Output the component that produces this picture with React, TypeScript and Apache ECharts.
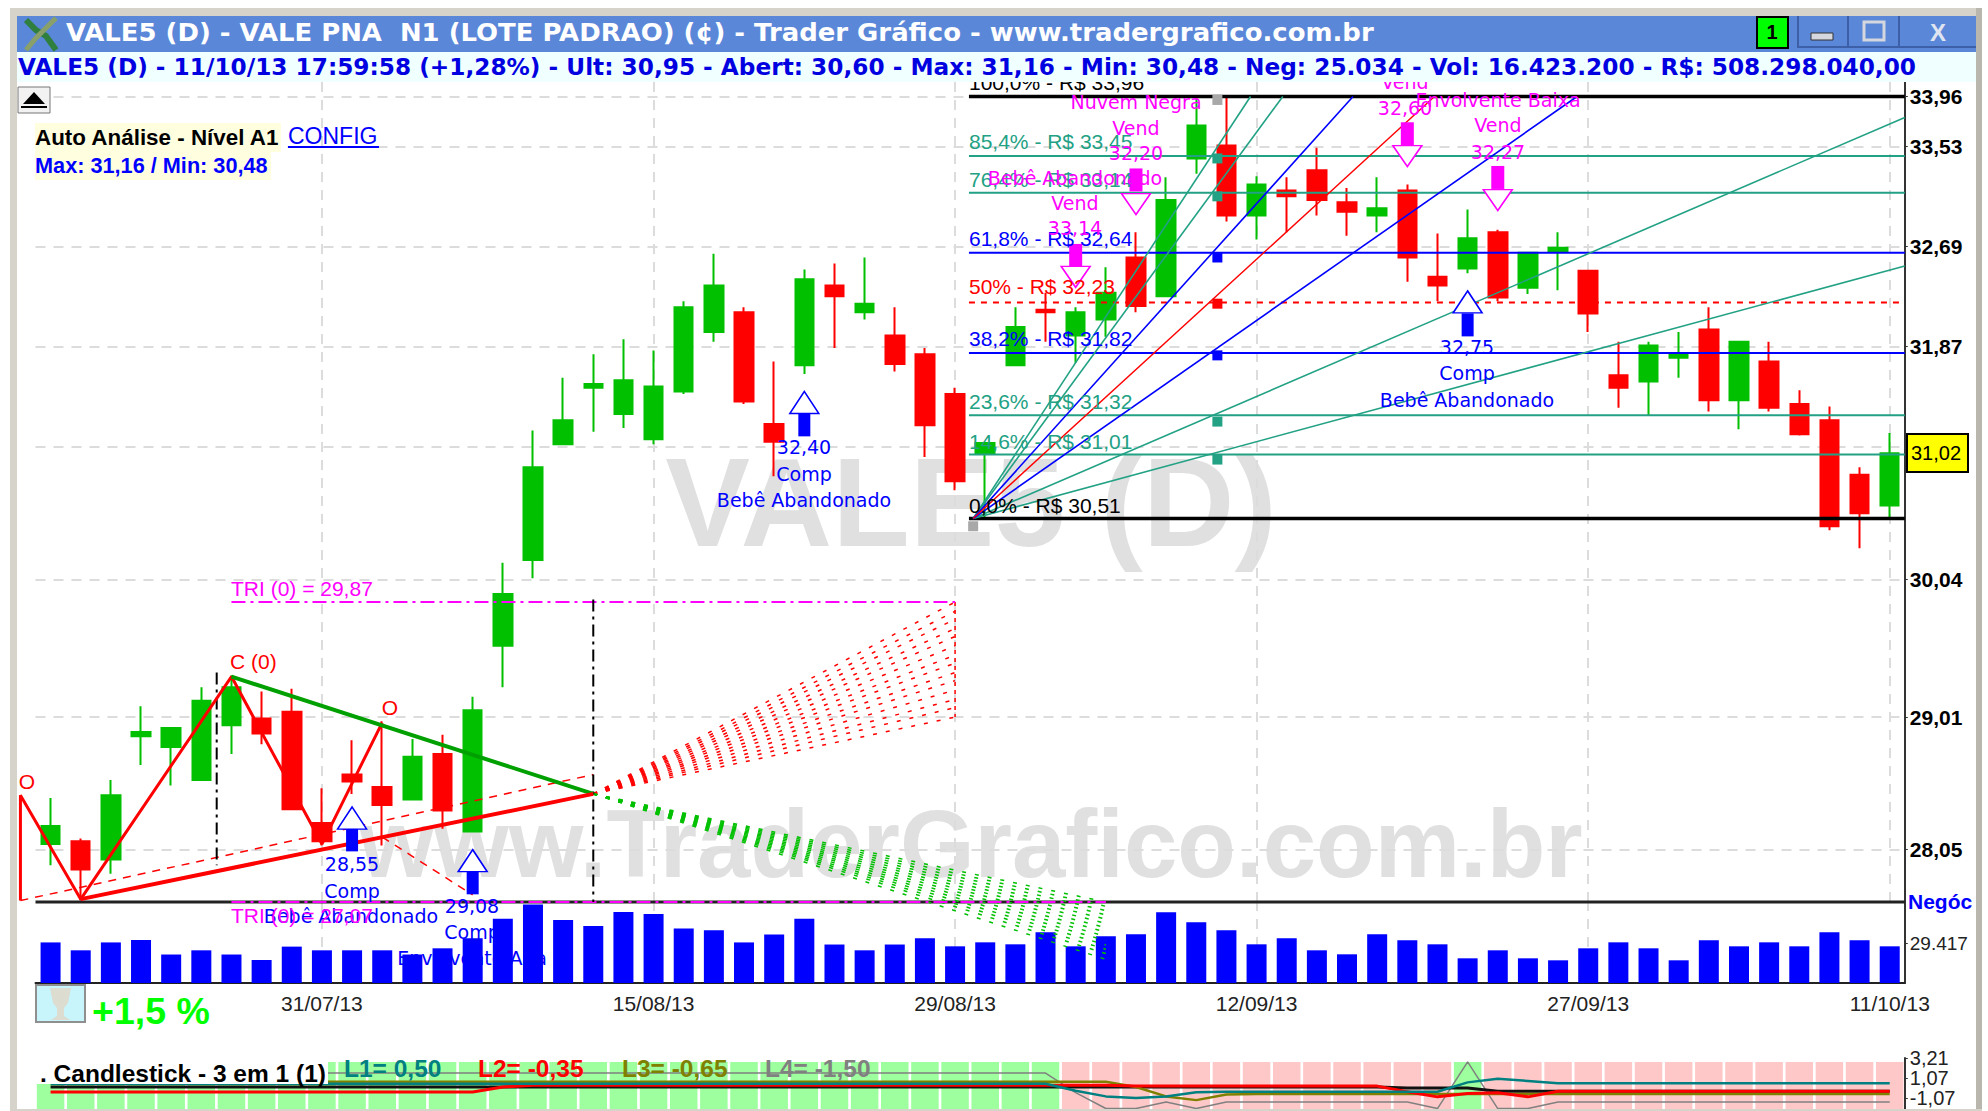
import React, { useEffect, useRef } from "react";
import * as echarts from "echarts";

const dates = [
  "18/07/13","19/07/13","22/07/13","23/07/13","24/07/13","25/07/13","26/07/13","29/07/13","30/07/13","31/07/13",
  "01/08/13","02/08/13","05/08/13","06/08/13","07/08/13","08/08/13","09/08/13","12/08/13","13/08/13","14/08/13",
  "15/08/13","16/08/13","19/08/13","20/08/13","21/08/13","22/08/13","23/08/13","26/08/13","27/08/13","28/08/13",
  "29/08/13","30/08/13","02/09/13","03/09/13","04/09/13","05/09/13","06/09/13","09/09/13","10/09/13","11/09/13",
  "12/09/13","13/09/13","16/09/13","17/09/13","18/09/13","19/09/13","20/09/13","23/09/13","24/09/13","25/09/13",
  "26/09/13","27/09/13","30/09/13","01/10/13","02/10/13","03/10/13","04/10/13","07/10/13","08/10/13","09/10/13",
  "10/10/13","11/10/13",
];
const dateTickIdx = [9, 20, 30, 40, 51, 61];

// open, close, low, high
const candles = [
  [28.09,28.22,27.94,28.42],[28.11,27.91,27.69,28.13],[27.98,28.44,27.88,28.55],[28.87,28.90,28.66,29.09],[28.79,28.93,28.51,28.93],
  [28.55,29.13,28.55,29.23],[28.95,29.23,28.74,29.32],[29.00,28.89,28.81,29.20],[29.05,28.34,28.34,29.22],[28.24,28.11,28.08,28.49],
  [28.59,28.54,28.45,28.84],[28.50,28.37,28.08,28.98],[28.41,28.72,28.41,28.85],[28.74,28.33,28.20,28.88],[28.18,29.06,28.18,29.16],
  [29.54,29.93,29.23,30.17],[30.19,30.91,30.05,31.20],[31.09,31.28,31.09,31.62],[31.54,31.57,31.19,31.81],[31.33,31.60,31.22,31.93],
  [31.13,31.55,31.09,31.84],[31.51,32.19,31.49,32.24],[31.99,32.37,31.91,32.63],[32.15,31.43,31.41,32.19],[31.25,31.11,30.84,31.75],
  [31.72,32.42,31.65,32.50],[32.37,32.28,31.86,32.55],[32.15,32.22,32.09,32.60],[31.96,31.73,31.67,32.19],[31.81,31.24,30.99,31.86],
  [31.49,30.80,30.73,31.54],[31.02,31.10,30.52,31.10],[31.72,32.03,31.72,32.19],[32.17,32.15,31.91,32.31],[31.96,32.15,31.74,32.19],
  [32.09,32.31,31.95,32.52],[32.60,32.20,32.15,32.81],[32.28,33.08,32.28,33.27],[33.43,33.71,33.30,33.96],[33.54,32.95,32.90,33.96],
  [32.95,33.21,32.75,33.28],[33.16,33.11,32.81,33.27],[33.33,33.08,32.95,33.52],[33.06,32.98,32.78,33.18],[32.95,33.01,32.81,33.27],
  [33.16,32.60,32.40,33.21],[32.44,32.37,32.24,32.80],[32.51,32.76,32.47,33.00],[32.81,32.27,32.24,32.83],[32.35,32.64,32.30,32.64],
  [32.65,32.68,32.33,32.81],[32.49,32.14,31.99,32.49],[31.64,31.54,31.38,31.91],[31.59,31.88,31.32,31.91],[31.78,31.81,31.62,31.99],
  [32.01,31.44,31.35,32.19],[31.44,31.91,31.21,31.91],[31.75,31.38,31.35,31.91],[31.41,31.17,31.16,31.52],[31.28,30.45,30.42,31.39],
  [30.85,30.55,30.28,30.91],[30.61,31.02,30.50,31.18],
];

const volumes = [
  29860,24050,29860,31620,20960,24050,20960,16910,26770,24050,
  24050,24050,20960,25520,32870,47360,57730,46330,41920,52210,
  50740,40010,38760,29860,35670,47360,28310,24050,28310,32870,
  26990,29930,28460,37290,26990,34340,35810,51990,44640,38760,
  28460,32870,24050,21110,35810,31400,28460,18160,24050,18160,
  16690,25520,29930,25520,16690,31400,26990,29930,26990,37290,
  31400,26990,
];

const priceTicks = [33.96, 33.53, 32.69, 31.87, 30.04, 29.01, 28.05];
const gridPrices = [33.53, 32.69, 31.87, 31.07, 30.04, 29.01, 28.05];

const fibTeal = [33.45, 33.14, 31.32, 31.01];
const fibBlue = [32.64, 31.82];
const fibRed = 32.23;
const fibBlack = [33.96, 30.51];

const fanOrigin = [30.6, 30.51];
const fanTeal = [[61.5, 32.53], [61.5, 33.78], [39.8, 33.96], [40.87, 33.96]];
const fanBlue = [[50.63, 33.96], [43.2, 33.96]];
const fanRed = [45.9, 33.96];

const zigzag = [[-1, 27.69], [-1, 28.44], [1, 27.70], [6, 29.31], [9, 28.09], [11, 28.97]];
const apex = [18, 28.45];
const triHigh = [6, 29.31];
const triLow = [1, 27.70];
const redFanEnds = [29.87, 29.80, 29.74, 29.67, 29.61, 29.54, 29.47, 29.41, 29.34, 29.28, 29.21, 29.14, 29.08, 29.01];
const greenFanEnds = [27.68, 27.65, 27.62, 27.59, 27.56, 27.53, 27.50, 27.47, 27.44, 27.41, 27.38, 27.35, 27.32, 27.28];

const buyStems = [[10, 28.12], [14, 27.815], [25, 31.244], [47, 32.047]];
const buyHeads = [[10, 28.276], [14, 27.972], [25, 31.422], [47, 32.235]];
const sellStems = [[34, 32.617], [36, 33.248], [45, 33.64], [48, 33.269]];
const sellHeads = [[34, 32.44], [36, 33.045], [45, 33.45], [48, 33.079]];

const squaresTeal = [[38.7, 33.43], [38.7, 33.11], [38.7, 31.27], [38.7, 30.97]];
const squaresBlue = [[38.7, 32.60], [38.7, 31.80]];
const squaresRed = [[38.7, 32.22]];
const squaresGray = [[38.7, 33.93], [30.6, 30.45]];

const signalBands = [
  1,1,1,1,1,1,1,1,1,1,1,1,1,1,1,1,1,1,1,1,1,1,1,1,1,1,1,1,1,1,1,1,1,1,
  0,0,0,0,0,0,0,0,0,0,0,0,0,
  1,
  0,0,0,0,0,0,0,0,0,0,0,0,0,0,
];
const L0 = [
  .1,.1,.1,.1,.1,.1,.1,.1,.1,.1,.1,.1,.1,.1,.1,.1,.1,.1,.1,.1,.1,.1,.1,.1,.1,.1,.1,.1,.1,.1,
  .1,.1,.1,.1,.1,.1,.1,.1,.1,.1,.1,.1,.1,.1,.1,0,0,0,-.35,-.35,
  -.35,-.35,-.35,-.35,-.35,-.35,-.35,-.35,-.35,-.35,-.35,-.35,
];
const L1 = [
  .45,.45,.45,.45,.45,.45,.45,.45,.45,.45,.45,.45,.45,.45,.45,.45,.45,.45,.45,.45,
  .45,.45,.45,.45,.45,.45,.45,.45,.45,.45,.45,.45,.45,.45,-.3,-.9,-1.07,-.9,-.45,-.4,
  -.4,-.4,-.4,-.4,-.4,-.4,-.4,.6,1.0,.75,.5,.5,.5,.5,.5,.5,.5,.5,.5,.5,.5,.5,
];
const L2 = [
  -.43,-.43,-.43,-.43,-.43,-.43,-.43,-.43,-.43,-.43,-.43,-.43,-.43,-.43,-.43,.1,.3,.3,.3,.3,
  .3,.3,.3,.3,.3,.3,.3,.3,.3,.3,.3,.3,.3,.3,.3,.3,.2,.2,.2,.2,
  .2,.2,.2,.2,.2,-.4,-.95,-.6,-.5,-.95,-.35,-.35,-.35,-.35,-.35,-.35,-.35,-.35,-.35,-.35,-.35,-.35,
];
const L3 = [
  .67,.67,.67,.67,.67,.67,.67,.67,.67,.67,.67,.67,.67,.67,.67,.67,.67,.67,.67,.67,
  .67,.67,.67,.67,.67,.67,.67,.67,.67,.67,.67,.67,.67,.67,.67,.67,.1,-.9,-1.3,-.7,
  -.65,-.65,-.65,-.65,-.65,-.65,-.65,-.65,-.65,-.65,-.65,-.65,-.65,-.65,-.65,-.65,-.65,-.65,-.65,-.65,-.65,-.65,
];
const L4 = [
  1.6,1.6,1.6,1.6,1.6,1.6,1.6,1.6,1.6,1.6,1.6,1.6,1.6,1.6,1.6,1.6,1.6,1.6,1.6,1.6,
  1.6,1.6,1.6,1.6,1.6,1.6,1.6,1.6,1.6,1.6,1.6,1.6,1.6,1.6,-.5,-2.2,-2.2,-1.5,-2.2,-1.5,
  -1.5,-1.5,-1.5,-1.5,-1.5,-1.5,-2.2,2.8,-2.2,-2.2,-1.5,-1.5,-1.5,-1.5,-1.5,-1.5,-1.5,-1.5,-1.5,-1.5,-1.5,-1.5,
];

const TITLE = "VALE5 (D) - VALE PNA  N1 (LOTE PADRAO) (¢) - Trader Gráfico - www.tradergrafico.com.br";
const INFO = "VALE5 (D) - 11/10/13 17:59:58 (+1,28%) - Ult: 30,95 - Abert: 30,60 - Max: 31,16 - Min: 30,48 - Neg: 25.034 - Vol: 16.423.200 - R$: 508.298.040,00";

const TEAL = "#22a184";
const BLUE = "#0000ff";
const MAG = "#ff00ff";
const RED = "#ff0000";
const GREEN = "#00c000";
const SANS = '"Liberation Sans"';
const DJ = '"DejaVu Sans"';

const fmt = (v: number) => v.toFixed(2).replace(".", ",");

function T(text: string, x: number, y: number, fill: string, font: string, align = "left", z = 20, scaleX = 1) {
  return {
    type: "text", x, y, z, scaleX, silent: true,
    style: { text, fill, font, align, verticalAlign: "middle", textAlign: align, textVerticalAlign: "middle" },
  };
}
function R(x: number, y: number, w: number, h: number, fill: string, z = 20, stroke?: string, lw = 0) {
  return { type: "rect", z, silent: true, shape: { x, y, width: w, height: h }, style: { fill, stroke, lineWidth: lw } };
}

function ov(pts: number[][], color: string, width: number, type: any = "solid", z = 5) {
  return {
    type: "line", xAxisIndex: 1, yAxisIndex: 0, data: pts, symbol: "none", showSymbol: false, clip: false,
    lineStyle: { color, width, type }, silent: true, z, connectNulls: false,
  };
}
function marks(pts: number[][], symbol: string, size: number[], fill: string, stroke = fill, lw = 0, rotate = 0, z = 8) {
  return {
    type: "scatter", xAxisIndex: 1, yAxisIndex: 0, data: pts, symbol, symbolSize: size, symbolRotate: rotate, clip: false, silent: true, z,
    itemStyle: { color: fill, borderColor: stroke, borderWidth: lw, opacity: 1 },
  };
}

export default function App() {
  const ref = useRef<HTMLDivElement>(null);
  useEffect(() => {
    document.body.style.margin = "0";
    const chart = echarts.init(ref.current!, null, { renderer: "svg" });

    const series: any[] = [];

    // grid lines
    series.push({
      type: "line", xAxisIndex: 1, yAxisIndex: 0, data: [], symbol: "none", silent: true, z: 1,
      markLine: {
        silent: true, symbol: "none", z: 1, animation: false, label: { show: false },
        lineStyle: { color: "#dcdcdc", width: 2, type: [10, 8] },
        data: [
          ...gridPrices.map((p) => [{ coord: [-0.5, p] }, { coord: [61.5, p] }]),
          [{ coord: [-0.5, 33.96] }, { coord: [30.46, 33.96] }],
          ...dateTickIdx.map((i) => [{ coord: [i, 34.085] }, { coord: [i, 27.68] }]),
        ],
      },
    });
    series.push({
      type: "line", xAxisIndex: 2, yAxisIndex: 1, data: [], symbol: "none", silent: true, z: 1,
      markLine: {
        silent: true, symbol: "none", z: 1, animation: false, label: { show: false },
        lineStyle: { color: "#dcdcdc", width: 2, type: [10, 8] },
        data: dateTickIdx.slice(0, 5).map((i) => ({ xAxis: i })),
      },
    });

    // candles (first category is the empty slot left of the first session)
    series.push({
      type: "candlestick", xAxisIndex: 0, yAxisIndex: 0, data: [["-", "-", "-", "-"], ...candles], barWidth: 19, z: 3, silent: true,
      clip: false,
      itemStyle: { color: GREEN, color0: RED, borderColor: GREEN, borderColor0: RED, borderWidth: 2 },
    });

    // pane separator
    series.push(ov([[-0.5, 27.68], [61.5, 27.68]], "#222222", 3, "solid", 4));

    // volume
    series.push({
      type: "bar", xAxisIndex: 2, yAxisIndex: 1, data: volumes, barWidth: 20, itemStyle: { color: BLUE }, z: 3, silent: true,
    });

    // indicator bands + lines
    series.push({
      type: "bar", xAxisIndex: 3, yAxisIndex: 3, barWidth: 27.5, silent: true, z: 1,
      data: signalBands.map((s) => ({ value: 47, itemStyle: { color: s ? "#9dff9d" : "#ffc8c8" } })),
    });
    const indic = (d: number[], color: string, width: number, z: number) => ({
      type: "line", xAxisIndex: 3, yAxisIndex: 2, data: d, symbol: "none", showSymbol: false, silent: true, z,
      lineStyle: { color, width }, clip: true,
    });
    series.push(indic(L4, "#808080", 1.5, 3));
    series.push(indic(L0, "#111111", 3, 4));
    series.push(indic(L3, "#808000", 2.5, 5));
    series.push(indic(L2, "#ff0000", 3, 6));
    series.push(indic(L1, "#008080", 2.5, 7));

    // fibonacci levels
    fibTeal.forEach((p) => series.push(ov([[30.46, p], [61.5, p]], TEAL, 2)));
    fibBlue.forEach((p) => series.push(ov([[30.46, p], [61.5, p]], BLUE, 2)));
    series.push(ov([[30.46, fibRed], [61.5, fibRed]], RED, 2, [6, 6]));
    fibBlack.forEach((p) => series.push(ov([[30.46, p], [61.5, p]], "#000000", 3.5)));

    // fan
    fanTeal.forEach((e) => series.push(ov([fanOrigin, e], TEAL, 1.6)));
    fanBlue.forEach((e) => series.push(ov([fanOrigin, e], BLUE, 1.6)));
    series.push(ov([fanOrigin, fanRed], RED, 1.4));

    series.push(marks(squaresTeal, "rect", [10, 10], TEAL));
    series.push(marks(squaresBlue, "rect", [10, 10], BLUE));
    series.push(marks(squaresRed, "rect", [10, 10], RED));
    series.push(marks(squaresGray, "rect", [10, 10], "#a8a8a8"));

    // triangle analysis
    redFanEnds.forEach((p) => series.push(ov([apex, [30, p]], RED, 1.5, [4, 9])));
    series.push(ov([[30, 29.87], [30, 29.01]], RED, 1.5, [4, 4]));
    greenFanEnds.forEach((p) => series.push(ov([apex, [35, p]], "#00c000", 1.5, [4, 9])));
    series.push(ov(zigzag, RED, 3, "solid", 6));
    series.push(ov([triHigh, apex], "#00a000", 4, "solid", 6));
    series.push(ov([triLow, apex], RED, 4, "solid", 6));
    series.push(ov([[-1, 27.69], [18, 28.59]], RED, 1.5, [8, 7]));
    series.push(ov([[11, 28.14], [14, 27.73]], RED, 1.5, [8, 7]));
    series.push(ov([[6, 29.87], [30, 29.87]], MAG, 2, [14, 5, 3, 5]));
    series.push(ov([[6, 27.68], [35, 27.68]], MAG, 2, [14, 5, 3, 5], 5));
    series.push(ov([[5.51, 29.34], [5.51, 27.94]], "#000000", 2, [12, 5, 3, 5]));
    series.push(ov([[18, 29.89], [18, 27.68]], "#000000", 2, [12, 5, 3, 5]));

    // arrows
    series.push(marks(buyStems, "rect", [12, 23], BLUE));
    series.push(marks(buyHeads, "triangle", [29, 22], "#ffffff", BLUE, 1.5));
    series.push(marks(sellStems, "rect", [13, 23], MAG));
    series.push(marks(sellHeads, "triangle", [29, 21], "#ffffff", MAG, 1.5, 180));

    const f21 = `21px ${SANS}`;
    const sig = `19px ${DJ}`;
    const graphicEls: any[] = [
      // watermarks
      T("VALE5 (D)", 971, 502, "#e0e0e0", `bold 127px ${SANS}`, "center", 0),
      T("www.TraderGrafico.com.br", 971, 843, "#e0e0e0", `bold 96px ${SANS}`, "center", 0),

      // fib labels
      T("100,0% - R$ 33,96", 969, 82, "#000000", f21),
      T("85,4% - R$ 33,45", 969, 141, TEAL, f21),
      T("76,4% - R$ 33,14", 969, 179, TEAL, f21),
      T("61,8% - R$ 32,64", 969, 238, BLUE, f21),
      T("50% - R$ 32,23", 969, 286, RED, f21),
      T("38,2% - R$ 31,82", 969, 338, BLUE, f21),
      T("23,6% - R$ 31,32", 969, 401, TEAL, f21),
      T("14,6% - R$ 31,01", 969, 441, TEAL, f21),
      T("0,0% - R$ 30,51", 969, 505, "#000000", f21),

      // buy labels
      T("28,55", 352, 864, BLUE, sig, "center"),
      T("Comp", 352, 891, BLUE, sig, "center"),
      T("Bebê Abandonado", 351, 916, BLUE, sig, "center"),
      T("29,08", 472, 906, BLUE, sig, "center"),
      T("Comp", 472, 932, BLUE, sig, "center"),
      T("Envolvente Alta", 472, 958, BLUE, sig, "center", 2),
      T("32,40", 804, 447, BLUE, sig, "center"),
      T("Comp", 804, 474, BLUE, sig, "center"),
      T("Bebê Abandonado", 804, 500, BLUE, sig, "center"),
      T("32,75", 1467, 347, BLUE, sig, "center"),
      T("Comp", 1467, 373, BLUE, sig, "center"),
      T("Bebê Abandonado", 1467, 400, BLUE, sig, "center"),

      // sell labels
      T("33,14", 1075, 228, MAG, sig, "center"),
      T("Vend", 1075, 203, MAG, sig, "center"),
      T("Bebê Abandonado", 1075, 178, MAG, sig, "center"),
      T("32,20", 1136, 153, MAG, sig, "center"),
      T("Vend", 1136, 128, MAG, sig, "center"),
      T("Nuvem Negra", 1136, 102, MAG, sig, "center"),
      T("32,60", 1405, 108, MAG, sig, "center"),
      T("Vend", 1405, 82, MAG, sig, "center"),
      T("32,27", 1498, 152, MAG, sig, "center"),
      T("Vend", 1498, 125, MAG, sig, "center"),
      T("Envolvente Baixa", 1498, 100, MAG, sig, "center"),

      // triangle labels
      T("TRI (0) = 29,87", 231, 588, MAG, f21),
      T("TRI (0) = 27,07", 231, 915, MAG, f21),
      T("C (0)", 230, 661, RED, f21),
      T("O", 27, 781, RED, f21, "center"),
      T("O", 390, 707, RED, f21, "center"),

      // left-top box
      R(18, 87, 32, 26, "#f2f2f2", 25, "#777777", 1),
      { type: "polygon", z: 26, silent: true, shape: { points: [[34, 92], [45, 104], [23, 104]] }, style: { fill: "#000000" } },
      { type: "line", z: 26, silent: true, shape: { x1: 21, y1: 107, x2: 47, y2: 107 }, style: { stroke: "#000000", lineWidth: 2 } },
      R(35, 123, 246, 29, "#ffffe0", 24),
      R(35, 152, 236, 28, "#ffffe0", 24),
      T("Auto Análise - Nível A1", 35, 137, "#000000", `bold 22.4px ${SANS}`, "left", 26),
      T("Max: 31,16 / Min: 30,48", 35, 165, BLUE, `bold 21.7px ${SANS}`, "left", 26),
      T("CONFIG", 288, 136, BLUE, `23px ${SANS}`, "left", 26),
      R(288, 146, 91, 2, BLUE, 26),

      // right labels
      T("Negóc", 1908, 901, BLUE, `bold 21px ${SANS}`, "left", 26),
      R(1907, 434, 61, 38, "#ffff00", 26, "#000000", 2),
      T("31,02", 1911, 453, "#000000", `20px ${SANS}`, "left", 27),

      // trophy
      R(36, 985, 49, 37, "#c8f4fb", 26, "#8f8f8f", 2),
      { type: "polygon", z: 27, silent: true, shape: { points: [[50, 988], [71, 988], [68, 1003], [64, 1008], [64, 1016], [70, 1020], [51, 1020], [57, 1016], [57, 1008], [53, 1003]] }, style: { fill: "#dcdcd0" } },
      T("+1,5 %", 92, 1011, "#00ff00", `bold 37.5px ${SANS}`, "left", 27),

      // indicator header
      R(36, 1056, 292, 28, "#ffffff", 30),
      T(". Candlestick - 3 em 1 (1)", 40, 1073, "#000000", `bold 24.5px ${SANS}`, "left", 31),
      T("L1= 0,50", 344, 1068, "#008080", `bold 24.5px ${SANS}`, "left", 31),
      T("L2= -0,35", 478, 1068, "#ff0000", `bold 24.5px ${SANS}`, "left", 31),
      T("L3= -0,65", 622, 1068, "#808000", `bold 24.5px ${SANS}`, "left", 31),
      T("L4= -1,50", 765, 1068, "#808080", `bold 24.5px ${SANS}`, "left", 31),

      // window frame
      R(0, 0, 1988, 8, "#ffffff", 100),
      R(0, 0, 10, 1111, "#ffffff", 100),
      R(1982, 0, 6, 1111, "#ffffff", 100),
      R(10, 8, 1972, 10, "#d6d3ca", 101),
      R(10, 8, 7, 1103, "#d6d3ca", 101),
      R(1976, 8, 6, 1103, "#b9b6ae", 101),
      R(10, 1109, 1972, 2, "#d6d3ca", 101),
      R(17, 16, 1959, 36, "#5b87d9", 102),
      R(17, 52, 1959, 30, "#f0ffff", 102),
      T(INFO, 18, 67, "#0000e0", `bold 23px ${DJ}`, "left", 103, 1.01),
      T(TITLE, 66, 33, "#ffffff", `bold 24px ${DJ}`, "left", 103, 1.08),
      // logo
      { type: "polyline", z: 103, silent: true, shape: { points: [[26, 20], [36, 30], [46, 36], [56, 50]] }, style: { stroke: "#2f7f3f", lineWidth: 6, fill: "none" } },
      { type: "polyline", z: 103, silent: true, shape: { points: [[56, 18], [46, 28], [36, 38], [26, 50]] }, style: { stroke: "#8aa06a", lineWidth: 5, fill: "none" } },
      // window buttons
      R(1757, 17, 31, 31, "#00ff00", 103, "#000000", 2),
      T("1", 1772, 32, "#000000", `bold 20px ${SANS}`, "center", 104),
      R(1797, 16, 2, 32, "#3d5fa8", 103),
      R(1847, 16, 2, 32, "#3d5fa8", 103),
      R(1898, 16, 2, 32, "#3d5fa8", 103),
      R(1797, 46, 179, 2, "#3d5fa8", 103),
      R(1811, 33, 22, 7, "#d4d8de", 104, "#333333", 1),
      R(1864, 22, 20, 18, "none", 104, "#d4d8de", 3),
      T("X", 1938, 32, "#dfe5f0", `bold 24px ${SANS}`, "center", 104),
    ];

    chart.setOption({
      animation: false,
      backgroundColor: "#ffffff",
      grid: [
        { left: 5.35, right: 83.2, top: 82, height: 820 },
        { left: 35.5, right: 83.2, top: 902, height: 81 },
        { left: 35.5, right: 83.2, top: 1058, height: 51 },
      ],
      xAxis: [
        { type: "category", gridIndex: 0, data: ["", ...dates], show: false },
        { type: "value", gridIndex: 0, min: -1.5, max: 61.5, show: false, splitLine: { show: false } },
        {
          type: "category", gridIndex: 1, data: dates,
          axisLine: { lineStyle: { color: "#222222", width: 2 } },
          axisTick: { alignWithLabel: true, length: 6, interval: (i: number) => dateTickIdx.includes(i), lineStyle: { color: "#222" } },
          axisLabel: { interval: (i: number) => dateTickIdx.includes(i), color: "#222222", fontSize: 21, fontFamily: "Liberation Sans", margin: 10, showMaxLabel: true, hideOverlap: false },
          splitLine: { show: false },
        },
        { type: "category", gridIndex: 2, data: dates, show: false },
      ],
      yAxis: [
        {
          type: "log", gridIndex: 0, position: "right", min: 27.68, max: 34.085, logBase: 10,
          axisLine: { show: true, onZero: false, lineStyle: { color: "#333333", width: 2 } },
          axisTick: { show: true, length: 3, customValues: priceTicks, lineStyle: { color: "#333" } },
          axisLabel: { customValues: priceTicks, formatter: (v: number) => fmt(v), color: "#000000", fontSize: 21, fontWeight: "bold", fontFamily: "Liberation Sans", margin: 5 },
          splitLine: { show: false }, minorTick: { show: false },
        },
        {
          type: "value", gridIndex: 1, position: "right", min: 0, max: 59600,
          axisLine: { show: true, onZero: false, lineStyle: { color: "#333333", width: 2 } },
          axisTick: { show: true, length: 3, customValues: [29417] },
          axisLabel: { customValues: [29417], formatter: () => "29.417", color: "#222222", fontSize: 19, fontFamily: "Liberation Sans", margin: 5 },
          splitLine: { show: false },
        },
        {
          type: "value", gridIndex: 2, position: "right", min: -2.25, max: 3.21,
          axisLine: { show: true, onZero: false, lineStyle: { color: "#333333", width: 2 } },
          axisTick: { show: true, length: 3, customValues: [3.21, 1.07, -1.07] },
          axisLabel: { customValues: [3.21, 1.07, -1.07], formatter: (v: number) => fmt(v), color: "#222222", fontSize: 20, fontFamily: "Liberation Sans", margin: 5 },
          splitLine: { show: false },
        },
        { type: "value", gridIndex: 2, min: 0, max: 51, show: false, splitLine: { show: false } },
      ],
      series,
      graphic: { elements: graphicEls },
    });
    return () => chart.dispose();
  }, []);
  return <div ref={ref} style={{ width: 1988, height: 1111 }} />;
}
